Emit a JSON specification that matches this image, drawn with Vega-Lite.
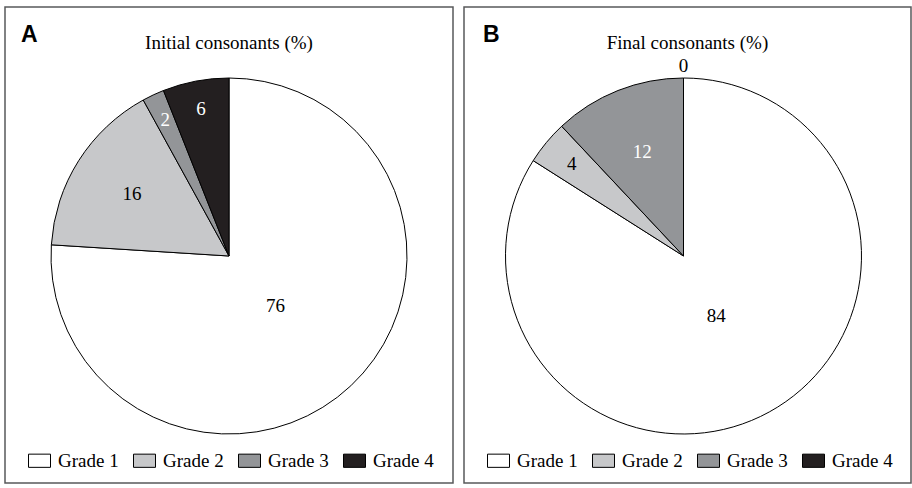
{
  "$schema": "https://vega.github.io/schema/vega-lite/v6.json",
  "padding": {"left": 4, "top": 6, "right": 4, "bottom": 6},
  "datasets": {
    "initial": [
      {"grade": "Grade 1", "value": 76},
      {"grade": "Grade 2", "value": 16},
      {"grade": "Grade 3", "value": 2},
      {"grade": "Grade 4", "value": 6}
    ],
    "final": [
      {"grade": "Grade 1", "value": 84},
      {"grade": "Grade 2", "value": 4},
      {"grade": "Grade 3", "value": 12},
      {"grade": "Grade 4", "value": 0}
    ],
    "labelA": [{"panel": "A"}],
    "labelB": [{"panel": "B"}]
  },
  "spacing": 9,
  "resolve": {"legend": {"color": "independent"}},
  "hconcat": [
    {
      "width": 448,
      "height": 476,
      "title": {"text": "Initial consonants (%)", "offset": -61, "baseline": "alphabetic"},
      "data": {"name": "initial"},
      "layer": [
        {
          "mark": {"type": "arc", "radius": 178, "stroke": "black", "strokeWidth": 1, "yOffset": 11},
          "encoding": {
            "theta": {"field": "value", "type": "quantitative", "stack": true},
            "order": {"field": "grade", "type": "ordinal", "sort": "ascending"},
            "color": {
              "field": "grade", "type": "nominal",
              "scale": {"domain": ["Grade 1", "Grade 2", "Grade 3", "Grade 4"], "range": ["#ffffff", "#c7c8ca", "#939598", "#231f20"]},
              "legend": {"title": null}
            }
          }
        },
        {
          "mark": {"type": "text", "radius": 68, "fontSize": 19, "yOffset": 11},
          "encoding": {
            "theta": {"field": "value", "type": "quantitative", "stack": true},
            "order": {"field": "grade", "type": "ordinal", "sort": "ascending"},
            "detail": {"field": "grade", "type": "nominal"},
            "text": {"condition": {"test": "datum.value >= 50", "field": "value", "type": "quantitative"}, "value": ""},
            "color": {"value": "black"}
          }
        },
        {
          "mark": {"type": "text", "radius": 115, "fontSize": 19, "yOffset": 11},
          "encoding": {
            "theta": {"field": "value", "type": "quantitative", "stack": true},
            "order": {"field": "grade", "type": "ordinal", "sort": "ascending"},
            "detail": {"field": "grade", "type": "nominal"},
            "text": {"condition": {"test": "datum.value >= 10 && datum.value < 50", "field": "value", "type": "quantitative"}, "value": ""},
            "color": {"condition": {"test": "datum.grade === 'Grade 3' || datum.grade === 'Grade 4'", "value": "white"}, "value": "black"}
          }
        },
        {
          "mark": {"type": "text", "radius": 150, "fontSize": 19, "yOffset": 11},
          "encoding": {
            "theta": {"field": "value", "type": "quantitative", "stack": true},
            "order": {"field": "grade", "type": "ordinal", "sort": "ascending"},
            "detail": {"field": "grade", "type": "nominal"},
            "text": {"condition": {"test": "datum.value > 0 && datum.value < 10", "field": "value", "type": "quantitative"}, "value": ""},
            "color": {"condition": {"test": "datum.grade === 'Grade 3' || datum.grade === 'Grade 4'", "value": "white"}, "value": "black"}
          }
        },
        {
          "mark": {"type": "text", "radius": 190, "fontSize": 19, "yOffset": 11},
          "encoding": {
            "theta": {"field": "value", "type": "quantitative", "stack": true},
            "order": {"field": "grade", "type": "ordinal", "sort": "ascending"},
            "detail": {"field": "grade", "type": "nominal"},
            "text": {"condition": {"test": "datum.value === 0", "field": "value", "type": "quantitative"}, "value": ""},
            "color": {"value": "black"}
          }
        },
        {
          "data": {"name": "labelA"},
          "mark": {"type": "text", "font": "Liberation Sans", "fontWeight": "bold", "fontSize": 23, "align": "left", "baseline": "alphabetic"},
          "encoding": {"text": {"field": "panel"}, "x": {"value": 16}, "y": {"value": 35}}
        }
      ]
    },
    {
      "width": 447,
      "height": 476,
      "title": {"text": "Final consonants (%)", "offset": -61, "baseline": "alphabetic"},
      "data": {"name": "final"},
      "layer": [
        {
          "mark": {"type": "arc", "radius": 178, "stroke": "black", "strokeWidth": 1, "yOffset": 11, "xOffset": -4},
          "encoding": {
            "theta": {"field": "value", "type": "quantitative", "stack": true},
            "order": {"field": "grade", "type": "ordinal", "sort": "ascending"},
            "color": {
              "field": "grade", "type": "nominal",
              "scale": {"domain": ["Grade 1", "Grade 2", "Grade 3", "Grade 4"], "range": ["#ffffff", "#c7c8ca", "#939598", "#231f20"]},
              "legend": {"title": null}
            }
          }
        },
        {
          "mark": {"type": "text", "radius": 68, "fontSize": 19, "yOffset": 11, "xOffset": -4},
          "encoding": {
            "theta": {"field": "value", "type": "quantitative", "stack": true},
            "order": {"field": "grade", "type": "ordinal", "sort": "ascending"},
            "detail": {"field": "grade", "type": "nominal"},
            "text": {"condition": {"test": "datum.value >= 50", "field": "value", "type": "quantitative"}, "value": ""},
            "color": {"value": "black"}
          }
        },
        {
          "mark": {"type": "text", "radius": 112, "fontSize": 19, "yOffset": 11, "xOffset": -4},
          "encoding": {
            "theta": {"field": "value", "type": "quantitative", "stack": true},
            "order": {"field": "grade", "type": "ordinal", "sort": "ascending"},
            "detail": {"field": "grade", "type": "nominal"},
            "text": {"condition": {"test": "datum.value >= 10 && datum.value < 50", "field": "value", "type": "quantitative"}, "value": ""},
            "color": {"condition": {"test": "datum.grade === 'Grade 3' || datum.grade === 'Grade 4'", "value": "white"}, "value": "black"}
          }
        },
        {
          "mark": {"type": "text", "radius": 145, "fontSize": 19, "yOffset": 11, "xOffset": -4},
          "encoding": {
            "theta": {"field": "value", "type": "quantitative", "stack": true},
            "order": {"field": "grade", "type": "ordinal", "sort": "ascending"},
            "detail": {"field": "grade", "type": "nominal"},
            "text": {"condition": {"test": "datum.value > 0 && datum.value < 10", "field": "value", "type": "quantitative"}, "value": ""},
            "color": {"condition": {"test": "datum.grade === 'Grade 3' || datum.grade === 'Grade 4'", "value": "white"}, "value": "black"}
          }
        },
        {
          "mark": {"type": "text", "radius": 190, "fontSize": 19, "yOffset": 11, "xOffset": -4},
          "encoding": {
            "theta": {"field": "value", "type": "quantitative", "stack": true},
            "order": {"field": "grade", "type": "ordinal", "sort": "ascending"},
            "detail": {"field": "grade", "type": "nominal"},
            "text": {"condition": {"test": "datum.value === 0", "field": "value", "type": "quantitative"}, "value": ""},
            "color": {"value": "black"}
          }
        },
        {
          "data": {"name": "labelB"},
          "mark": {"type": "text", "font": "Liberation Sans", "fontWeight": "bold", "fontSize": 23, "align": "left", "baseline": "alphabetic"},
          "encoding": {"text": {"field": "panel"}, "x": {"value": 19}, "y": {"value": 35}}
        }
      ]
    }
  ],
  "config": {
    "font": "Liberation Serif",
    "view": {"stroke": "#58595b", "strokeWidth": 1.5},
    "title": {"font": "Liberation Serif", "fontSize": 19, "fontWeight": "normal", "color": "black", "anchor": "middle"},
    "text": {"font": "Liberation Serif"},
    "legend": {
      "orient": "none",
      "legendX": 23,
      "legendY": 442,
      "direction": "horizontal",
      "symbolType": "M-1,-0.6H1V0.6H-1Z",
      "symbolSize": 484,
      "symbolStrokeColor": "black",
      "symbolStrokeWidth": 1,
      "symbolOpacity": 1,
      "labelFont": "Liberation Serif",
      "labelFontSize": 19,
      "labelColor": "black",
      "labelOffset": 7,
      "columnPadding": 12
    }
  }
}
